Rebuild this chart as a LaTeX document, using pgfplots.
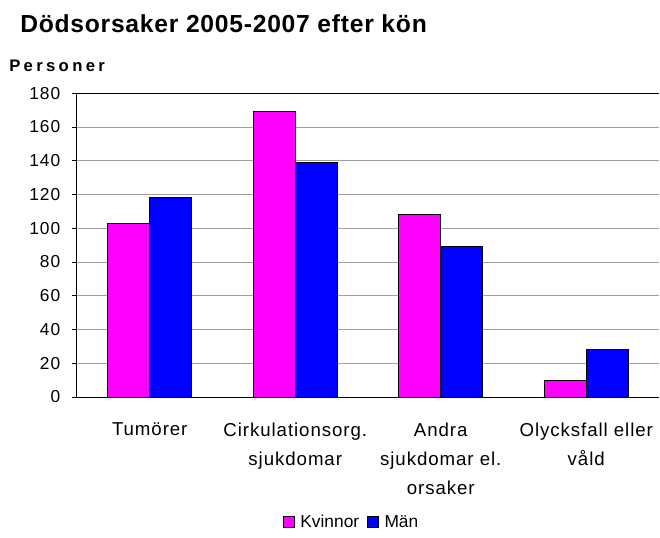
\documentclass[border=0pt]{standalone}
\usepackage{fontspec}
\setmainfont{Liberation Sans}
\usepackage{pgfplots}
\pgfplotsset{compat=1.18}
\definecolor{kvinna}{HTML}{FF00FF}
\definecolor{man}{HTML}{0000FF}
\definecolor{gridg}{HTML}{A0A0A0}
\newfontfamily\lbl[LetterSpace=6]{Liberation Sans}
\newfontfamily\cat[LetterSpace=5]{Liberation Sans}
\newfontfamily\wide[LetterSpace=20]{Liberation Sans}
\newfontfamily\ttl[LetterSpace=3]{Liberation Sans}

\begin{document}
\begin{tikzpicture}[x=0.75pt,y=0.75pt]
\useasboundingbox (0,0) rectangle (660,537);

% title and unit label
\node[anchor=base west, inner sep=0pt, font=\ttl\bfseries\fontsize{18.5}{20}\selectfont]
  at (20,504) {Dödsorsaker 2005-2007 efter kön};
\node[anchor=base west, inner sep=0pt, font=\wide\bfseries\fontsize{12.5}{14}\selectfont]
  at (9,466) {Personer};

\begin{axis}[
  at={(57.75pt,105pt)}, anchor=south west,
  scale only axis,
  width=436.5pt, height=227.8pt,
  ybar=0pt, bar width=31.5pt,
  xmin=-0.5, xmax=3.5,
  ymin=0, ymax=180,
  ytick={0,20,...,180},
  xtick=data,
  xticklabels={Tumörer, {Cirkulationsorg.\\sjukdomar}, {Andra\\sjukdomar el.\\orsaker}, {Olycksfall eller\\våld}},
  axis x line*=bottom, axis y line*=left,
  axis line style={-, black, line width=0.75pt},
  ymajorgrids, grid style={gridg, line width=0.75pt},
  tick align=outside, major tick length=4pt,
  ytick style={black, line width=0.75pt},
  xtick style={draw=none},
  /pgf/number format/assume math mode=true,
  yticklabel style={font=\lbl\fontsize{13}{15}\selectfont, xshift=-5pt},
  xticklabel style={font=\cat\fontsize{14}{21.75}\selectfont, align=center, anchor=north, yshift=-12pt},
  legend style={at={(0.4725,-0.4125)}, anchor=center, draw=none, fill=none,
    font=\fontsize{13}{15}\selectfont, legend columns=2,
    /tikz/every odd column/.append style={column sep=2pt},
    /tikz/every even column/.append style={column sep=4pt}},
  legend image code/.code={\draw[#1, line width=0.75pt] (0pt,-4.1pt) rectangle (8.25pt,4.1pt);},
]
\addplot[fill=kvinna, draw=black, line width=0.75pt] coordinates {(0,103) (1,169) (2,108) (3,10)};
\addlegendentry{Kvinnor}
\addplot[fill=man, draw=black, line width=0.75pt] coordinates {(0,118) (1,139) (2,89) (3,28)};
\addlegendentry{Män}
\draw[black, line width=0.75pt] (rel axis cs:0,1) -- (rel axis cs:1,1);
\end{axis}
\end{tikzpicture}
\end{document}
